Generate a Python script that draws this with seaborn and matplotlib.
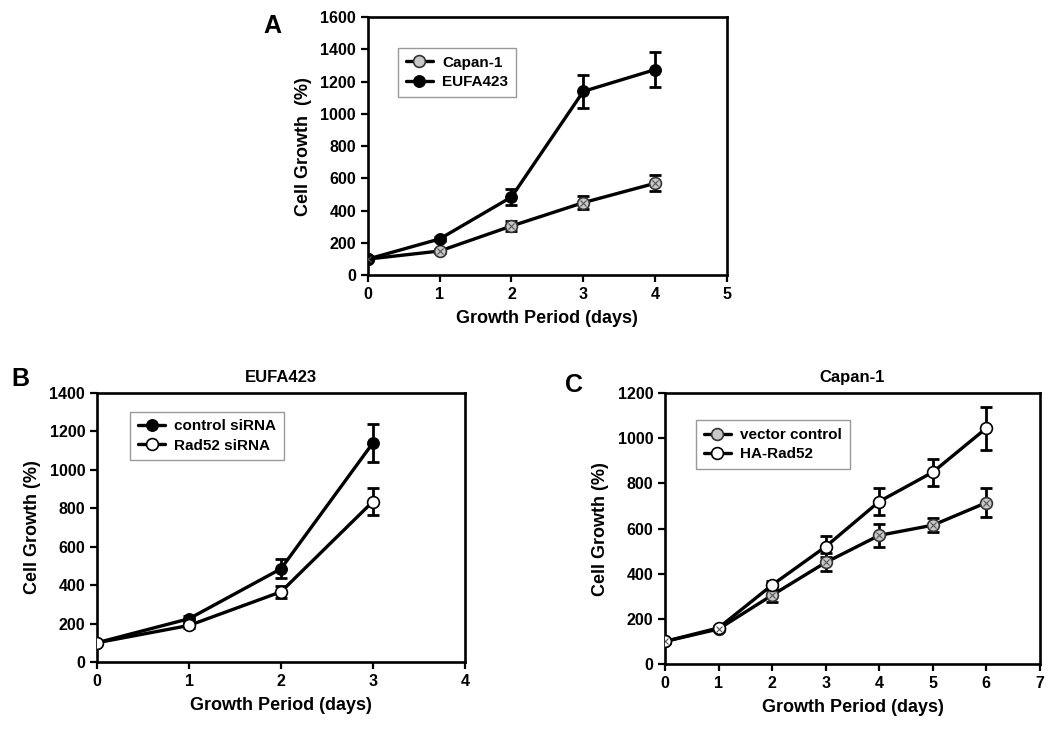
"""Cell growth curves for Capan-1 / EUFA423 panels A, B and C."""
import matplotlib
matplotlib.use('Agg')
import matplotlib.pyplot as plt
import pandas as pd
import seaborn as sns

# panel A: Capan-1 vs EUFA423
days_a = [0, 1, 2, 3, 4]
capan_a = [100, 150, 305, 450, 570]
capan_a_err = [8, 12, 30, 40, 50]
eufa_a = [100, 225, 485, 1140, 1275]
eufa_a_err = [8, 15, 50, 100, 110]

# panel B: EUFA423 siRNA
days_b = [0, 1, 2, 3]
ctrl_b = [100, 225, 485, 1140]
ctrl_b_err = [8, 15, 50, 100]
rad_b = [100, 190, 365, 835]
rad_b_err = [8, 15, 30, 70]

# panel C: Capan-1 overexpression
days_c = [0, 1, 2, 3, 4, 5, 6]
vec_c = [100, 155, 305, 450, 570, 615, 715]
vec_c_err = [5, 10, 30, 40, 50, 30, 65]
ha_c = [100, 160, 350, 520, 720, 850, 1045]
ha_c_err = [5, 10, 20, 45, 60, 60, 95]

sns.set_style('ticks')
plt.rcParams['font.family'] = ['Liberation Sans', 'DejaVu Sans']
plt.rcParams['font.weight'] = 'bold'
plt.rcParams['axes.labelweight'] = 'bold'
for key in ['text.color', 'axes.labelcolor', 'xtick.color', 'ytick.color',
            'axes.edgecolor']:
    plt.rcParams[key] = 'black'

HATCH = dict(marker='o', markersize=8.5, markerfacecolor='#c8c8c8',
             markeredgecolor='#333333', markeredgewidth=1.2)
FILLED = dict(marker='o', markersize=8.5, markerfacecolor='black',
              markeredgecolor='black')
OPEN = dict(marker='o', markersize=8.5, markerfacecolor='white',
            markeredgecolor='black', markeredgewidth=1.2)


def draw_series(ax, x, y, err, label, style):
    df = pd.DataFrame({'day': x, 'growth': y})
    ax.errorbar(x, y, yerr=err, fmt='none', ecolor='black', elinewidth=2,
                capsize=4, capthick=2, zorder=2)
    sns.lineplot(data=df, x='day', y='growth', ax=ax, color='black',
                 linewidth=2.4, label=label, zorder=3, **style)
    # light cross on the hatched marker
    if style is HATCH:
        ax.plot(x, y, linestyle='none', marker='x', markersize=5,
                color='#555555', markeredgewidth=0.8, zorder=4)


def style_axes(ax, xmax, ymax, ystep, ylabel, leg_xy):
    ax.set_xlim(0, xmax)
    ax.set_ylim(0, ymax)
    ax.set_xticks(range(0, xmax + 1))
    ax.set_yticks(range(0, ymax + 1, ystep))
    ax.set_xlabel('Growth Period (days)', fontsize=13, labelpad=6)
    ax.set_ylabel(ylabel, fontsize=13, labelpad=6)
    ax.tick_params(labelsize=11.5, width=1.6, length=5, direction='out')
    for lab in ax.get_xticklabels() + ax.get_yticklabels():
        lab.set_fontweight('bold')
    for sp in ax.spines.values():
        sp.set_linewidth(1.9)
        sp.set_visible(True)
    leg = ax.legend(loc='upper left', bbox_to_anchor=leg_xy, borderaxespad=0,
                    fancybox=False, framealpha=1, edgecolor='#999999',
                    fontsize=11, handlelength=1.8, handletextpad=0.6,
                    borderpad=0.5, labelspacing=0.35)
    for t in leg.get_texts():
        t.set_fontweight('bold')


fig = plt.figure(figsize=(10.48, 7.3), dpi=100)

ax_a = fig.add_axes([0.351, 0.623, 0.3426, 0.3534])
draw_series(ax_a, days_a, capan_a, capan_a_err, 'Capan-1', HATCH)
draw_series(ax_a, days_a, eufa_a, eufa_a_err, 'EUFA423', FILLED)
style_axes(ax_a, 5, 1600, 200, 'Cell Growth  (%)', (0.084, 0.88))

ax_b = fig.add_axes([0.0926, 0.0932, 0.351, 0.3685])
draw_series(ax_b, days_b, ctrl_b, ctrl_b_err, 'control siRNA', FILLED)
draw_series(ax_b, days_b, rad_b, rad_b_err, 'Rad52 siRNA', OPEN)
style_axes(ax_b, 4, 1400, 200, 'Cell Growth (%)', (0.09, 0.93))
ax_b.set_title('EUFA423', fontsize=12, fontweight='bold', pad=8)

ax_c = fig.add_axes([0.6345, 0.0904, 0.3578, 0.371])
draw_series(ax_c, days_c, vec_c, vec_c_err, 'vector control', HATCH)
draw_series(ax_c, days_c, ha_c, ha_c_err, 'HA-Rad52', OPEN)
style_axes(ax_c, 7, 1200, 200, 'Cell Growth (%)', (0.083, 0.90))
ax_c.set_title('Capan-1', fontsize=12, fontweight='bold', pad=8)

fig.text(0.251, 0.965, 'A', fontsize=18, fontweight='bold', va='center')
fig.text(0.011, 0.481, 'B', fontsize=18, fontweight='bold', va='center')
fig.text(0.539, 0.473, 'C', fontsize=18, fontweight='bold', va='center')

fig.savefig('out.png', dpi=100)
